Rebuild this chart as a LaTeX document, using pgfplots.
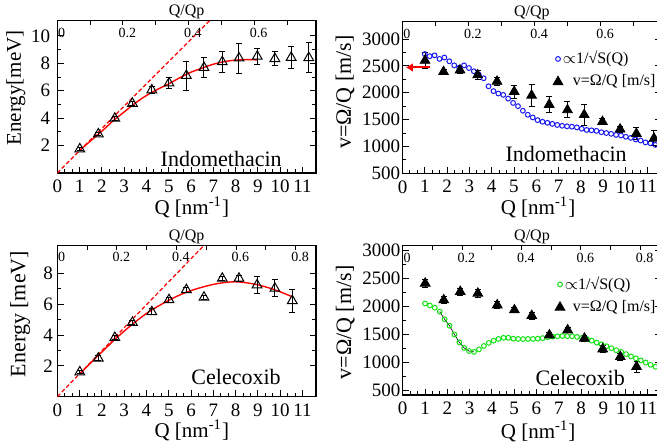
\documentclass[border=0pt]{standalone}
\usepackage{fontspec}
\setmainfont{Liberation Serif}
\usepackage{pgfplots}
\pgfplotsset{compat=1.18}
\usepackage{pgfplotstable}
\usetikzlibrary{arrows.meta}

\definecolor{sqblue}{RGB}{25,25,240}
\definecolor{sqgreen}{RGB}{20,225,20}

% 1/sqrt(S(Q)) curves, scaled to m/s
\pgfplotstableread{
q v
1.00 2720
1.22 2680
1.44 2695
1.66 2630
1.88 2655
2.10 2585
2.32 2510
2.54 2466
2.76 2510
2.98 2460
3.20 2400
3.42 2340
3.64 2270
3.86 2120
4.08 2030
4.30 1985
4.52 1960
4.74 1890
4.96 1810
5.18 1750
5.40 1665
5.62 1590
5.84 1540
6.06 1490
6.28 1460
6.50 1440
6.72 1420
6.94 1400
7.16 1385
7.38 1375
7.60 1368
7.82 1355
8.04 1330
8.26 1307
8.48 1300
8.70 1290
8.92 1265
9.14 1250
9.36 1235
9.58 1215
9.80 1205
10.02 1180
10.24 1160
10.46 1130
10.68 1110
10.90 1075
11.12 1060
11.34 1030
11.56 1010
}\blueSQ

\pgfplotstableread{
q v
1.00 2050
1.22 2015
1.44 1975
1.66 1905
1.88 1770
2.10 1655
2.32 1500
2.54 1360
2.76 1260
2.98 1205
3.20 1190
3.42 1235
3.64 1295
3.86 1350
4.08 1390
4.30 1420
4.52 1440
4.74 1440
4.96 1425
5.18 1420
5.40 1418
5.62 1420
5.84 1420
6.06 1425
6.28 1435
6.50 1450
6.72 1460
6.94 1468
7.16 1472
7.38 1470
7.60 1468
7.82 1455
8.04 1440
8.26 1420
8.48 1390
8.70 1355
8.92 1325
9.14 1290
9.36 1255
9.58 1220
9.80 1190
10.02 1150
10.24 1110
10.46 1075
10.68 1040
10.90 1000
11.12 960
11.34 925
11.56 885
}\greenSQ

\pgfplotsset{
  panel/.style={
    scale only axis, width=129.3pt,
    xmin=0, xmax=11.6, xtick={0,...,11}, minor x tick num=2,
    xtick pos=left, ytick pos=both, minor y tick num=1,
    axis line style={line width=0.6pt},
    every tick/.style={black, line width=0.45pt},
    major tick length=3.2pt, minor tick length=1.8pt,
    tick label style={font=\fontsize{9.5}{10}\selectfont},
    /pgf/number format/assume math mode=true,
    /pgf/number format/1000 sep={},
    scaled ticks=false,
    label style={font=\fontsize{10.5}{12}\selectfont},
  },
  toppanel/.style={
    scale only axis, width=129.3pt,
    xmin=0, ymin=0, ymax=1, ytick=\empty,
    axis line style={draw=none},
    xtick pos=right, xticklabel pos=right,
    every tick/.style={black, line width=0.45pt},
    major tick length=2.2pt, minor tick length=2.2pt,
    xticklabel style={anchor=north, xshift=2.2pt, font=\fontsize{7}{8}\selectfont},
    xlabel={Q/Qp},
    xlabel style={at={(axis description cs:0.5,1)}, anchor=base, yshift=2.4pt, font=\fontsize{8}{9}\selectfont},
  },
  legmark/.style={legend image code/.code={\draw[##1] plot coordinates {(0pt,0pt)};}},
  errs/.style={error bars/.cd, y dir=both, y explicit,
    error bar style={line width=0.5pt},
    error mark options={rotate=90, mark size=1.5pt, line width=0.5pt}},
}

\begin{document}
\begin{tikzpicture}
\useasboundingbox (0pt,0pt) rectangle (328.5pt,-223.5pt);

% ---------- top left: Indomethacin dispersion
\begin{axis}[panel, at={(28.65pt,-86.5pt)}, anchor=south west, height=76.15pt,
  ymin=0, ymax=11.1, ytick={2,4,6,8,10},
  xlabel={Q [nm\textsuperscript{-1}]}, ylabel={Energy[meV]},
  xlabel style={at={(axis description cs:0.52,-0.27)}, anchor=base},
  ylabel style={at={(axis description cs:-0.16,0.558)}, anchor=center}]
\addplot[red, dash pattern=on 2pt off 1.2pt, line width=0.6pt] coordinates {(0,0) (7.5,12.19)};
\addplot[red, line width=0.7pt, smooth] coordinates {
(1,1.65) (1.5,2.35) (2,3.05) (2.5,3.8) (3,4.45) (3.5,5.1) (4,5.65) (4.5,6.1)
(5,6.5) (5.5,6.95) (6,7.35) (6.5,7.65) (7,7.93) (7.5,8.12) (8,8.23) (8.5,8.27) (9,8.24)};
\addplot[black, only marks, mark=triangle, mark size=2.8pt, mark options={line width=0.5pt}, errs]
  table[x=q, y=e, y error=d] {
q e d
1.01 1.75 0.1
1.84 2.84 0.12
2.58 3.98 0.12
3.37 5.07 0.15
4.24 6.05 0.25
5.01 6.55 0.4
5.79 7.10 1.05
6.58 7.68 0.75
7.40 8.10 0.75
8.15 8.37 1.1
8.97 8.50 0.6
9.76 8.33 0.5
10.49 8.42 0.8
11.28 8.40 1.1
};
\node[font=\fontsize{11}{12}\selectfont, anchor=base] at (axis cs:7.35,0.51) {Indomethacin};
\end{axis}
\begin{axis}[toppanel, at={(28.65pt,-86.5pt)}, anchor=south west, height=76.15pt,
  xmax=0.788, xtick={0,0.2,0.4,0.6}, minor xtick={0.1,0.3,0.5,0.7}, xticklabels={0,0.2,0.4,0.6}]
\end{axis}

% ---------- top right: Indomethacin velocity
\begin{axis}[panel, at={(201.25pt,-86.65pt)}, anchor=south west, height=75.8pt,
  ymin=500, ymax=3322, ytick={500,1000,...,3000},
  yticklabel style={inner xsep=1pt},
  xlabel={Q [nm\textsuperscript{-1}]}, ylabel={v=Ω/Q [m/s]},
  xlabel style={at={(axis description cs:0.524,-0.269)}, anchor=base},
  ylabel style={at={(axis description cs:-0.222,0.536)}, anchor=center, font=\fontsize{11}{12}\selectfont},
  legend cell align=left,
  legend style={draw=none, fill=none, inner sep=0pt, row sep=0pt, font=\fontsize{8}{9}\selectfont,
    at={(0.581,0.835)}, anchor=north west}]
\addplot[only marks, mark=o, mark size=1.2pt, mark options={draw=sqblue, fill=white, line width=0.5pt}, legmark]
  table[x=q, y=v] {\blueSQ};
\addlegendentry{\hspace*{-2pt}$\propto$1/√S(Q)}
\addplot[black, only marks, mark=triangle*, mark size=2.8pt, mark options={fill=black}, legmark, errs]
  table[x=q, y=v, y error=d] {
q v d
1.01 2600 150
1.84 2390 50
2.58 2420 60
3.37 2330 80
4.24 2210 80
5.01 2020 120
5.79 1950 200
6.58 1780 150
7.40 1680 150
8.15 1590 200
8.97 1460 60
9.76 1320 60
10.49 1240 110
11.28 1150 140
};
\addlegendentry{\hspace*{3pt}v=Ω/Q [m/s]}
\addplot[red, line width=1pt, -{Latex[length=3.5pt, width=4.5pt]}, forget plot] coordinates {(1.23,2470) (0.15,2470)};
\node[font=\fontsize{11}{12}\selectfont, anchor=base] at (axis cs:7.34,716) {Indomethacin};
\end{axis}
\begin{axis}[toppanel, at={(201.25pt,-86.65pt)}, anchor=south west, height=75.8pt,
  xmax=0.783, xtick={0,0.2,0.4,0.6}, minor xtick={0.1,0.3,0.5,0.7}, xticklabels={0,0.2,0.4,0.6}]
\end{axis}

% ---------- bottom left: Celecoxib dispersion
\begin{axis}[panel, at={(28.65pt,-198.35pt)}, anchor=south west, height=75.6pt,
  ymin=0, ymax=9.8, ytick={2,4,6,8},
  yticklabel style={inner xsep=2pt},
  xlabel={Q [nm\textsuperscript{-1}]}, ylabel={Energy [meV]},
  xlabel style={at={(axis description cs:0.52,-0.267)}, anchor=base},
  ylabel style={at={(axis description cs:-0.144,0.547)}, anchor=center, font=\fontsize{11}{12}\selectfont}]
\addplot[red, dash pattern=on 2pt off 1.2pt, line width=0.6pt] coordinates {(0,0) (7.5,11.18)};
\addplot[red, line width=0.7pt, smooth] coordinates {
(1,1.45) (1.5,2.2) (2,2.9) (2.5,3.6) (3,4.25) (3.5,4.85) (4,5.4) (4.5,5.85) (5,6.25)
(5.5,6.6) (6,6.88) (6.5,7.1) (7,7.28) (7.5,7.4) (8,7.45) (8.5,7.38) (9,7.25) (9.5,7.05) (10,6.8) (10.5,6.5)};
\addplot[black, only marks, mark=triangle, mark size=2.8pt, mark options={line width=0.5pt}, errs]
  table[x=q, y=e, y error=d] {
q e d
1.01 1.60 0.1
1.84 2.49 0.15
2.58 3.83 0.15
3.37 4.81 0.15
4.24 5.50 0.2
5.01 6.28 0.15
5.79 6.93 0.15
6.58 6.44 0.15
7.40 7.67 0.15
8.15 7.67 0.2
8.96 7.24 0.55
9.76 7.02 0.55
10.54 6.22 0.73
};
\node[font=\fontsize{11}{12}\selectfont, anchor=base] at (axis cs:8.02,0.76) {Celecoxib};
\end{axis}
\begin{axis}[toppanel, at={(28.65pt,-198.35pt)}, anchor=south west, height=75.6pt,
  xmax=0.868, xtick={0,0.2,0.4,0.6,0.8}, minor xtick={0.1,0.3,0.5,0.7}, xticklabels={0,0.2,0.4,0.6,0.8}]
\end{axis}

% ---------- bottom right: Celecoxib velocity
\begin{axis}[panel, at={(201.35pt,-197.5pt)}, anchor=south west, height=74.65pt,
  ymin=424, ymax=3076, ytick={500,1000,...,3000},
  yticklabel style={inner xsep=1pt},
  xlabel={Q [nm\textsuperscript{-1}]}, ylabel={v=Ω/Q [m/s]},
  xlabel style={at={(axis description cs:0.524,-0.294)}, anchor=base},
  ylabel style={at={(axis description cs:-0.222,0.486)}, anchor=center, font=\fontsize{11}{12}\selectfont},
  legend cell align=left,
  legend style={draw=none, fill=none, inner sep=0pt, row sep=0pt, font=\fontsize{8}{9}\selectfont,
    at={(0.588,0.822)}, anchor=north west}]
\addplot[black, line width=0.3pt, forget plot, restrict x to domain=1.5:3.3] table[x=q, y=v] {\greenSQ};
\addplot[only marks, mark=o, mark size=1.2pt, mark options={draw=sqgreen, fill=white, line width=0.5pt}, legmark]
  table[x=q, y=v] {\greenSQ};
\addlegendentry{\hspace*{-2pt}$\propto$1/√S(Q)}
\addplot[black, only marks, mark=triangle*, mark size=2.8pt, mark options={fill=black}, legmark, errs]
  table[x=q, y=v, y error=d] {
q v d
1.01 2408 70
1.84 2111 70
2.58 2260 60
3.37 2230 70
4.24 2022 60
5.01 1934 50
5.79 1833 60
6.58 1489 50
7.40 1578 50
8.15 1430 50
8.97 1240 60
9.76 1104 60
10.49 927 100
};
\addlegendentry{\hspace*{2pt}v=Ω/Q [m/s]}
\node[font=\fontsize{11}{12}\selectfont, anchor=base] at (axis cs:7.96,601) {Celecoxib};
\end{axis}
\begin{axis}[toppanel, at={(201.35pt,-197.5pt)}, anchor=south west, height=74.65pt,
  xmax=0.871, xtick={0,0.2,0.4,0.6,0.8}, minor xtick={0.1,0.3,0.5,0.7}, xticklabels={0,0.2,0.4,0.6,0.8}]
\end{axis}
\end{tikzpicture}
\end{document}
